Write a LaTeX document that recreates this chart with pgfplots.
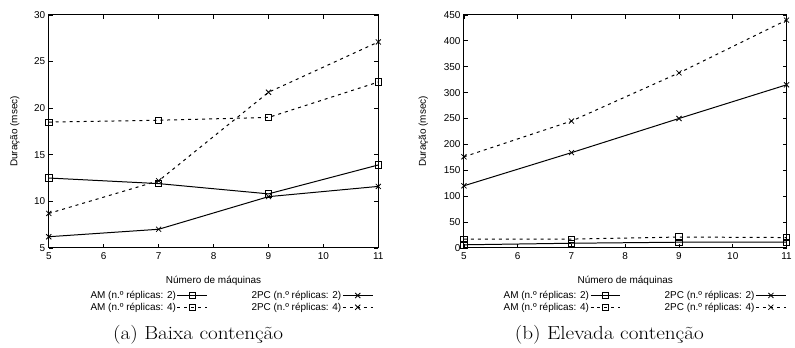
\documentclass[border=0pt]{standalone}
\usepackage{fontspec}
\setsansfont{Liberation Sans}
\usepackage{graphicx}
\usepackage{pgfplots}
\pgfplotsset{compat=1.18}
\pgfplotsset{
  gp/.style={
    scale only axis,
    width=331pt, height=234pt,
    axis line style={line width=1pt},
    tick align=inside,
    major tick length=4pt,
    tick style={line width=0.8pt, black},
    xmin=5, xmax=11, xtick={5,6,7,8,9,10,11},
    xticklabel={\pgfmathprintnumber[assume math mode=true]{\tick}},
    yticklabel={\pgfmathprintnumber[assume math mode=true]{\tick}},
    ticklabel style={font=\sffamily\fontsize{10}{11}\selectfont},
    xticklabel style={yshift=-1pt},
    xlabel={Número de máquinas},
    ylabel={Duração (msec)},
    every axis x label/.style={at={(axis description cs:0.5,-0.141)},anchor=center,font=\sffamily\fontsize{10}{11}\selectfont},
    legend columns=2,
    legend plot pos=right,
    legend cell align=right,
    legend style={draw=none, fill=none, font=\sffamily\fontsize{10}{11}\selectfont,
      row sep=1pt, inner sep=0pt, nodes={inner sep=1pt},
      /tikz/column 2/.style={column sep=43pt}},
    legend image code/.code={\draw[mark repeat=2,mark phase=2] plot coordinates {(0pt,0pt) (15pt,0pt) (30pt,0pt)};},
  },
  am2/.style={black, line width=1pt, mark=square, mark size=3.2pt, mark options={solid, line width=0.8pt}},
  am4/.style={black, line width=1pt, dash pattern=on 3pt off 4pt, mark=square, mark size=3.2pt, mark options={solid, line width=0.8pt}},
  pc2/.style={black, line width=1pt, mark=x, mark size=3.6pt, mark options={solid, line width=0.8pt}},
  pc4/.style={black, line width=1pt, dash pattern=on 3pt off 4pt, mark=x, mark size=3.6pt, mark options={solid, line width=0.8pt}},
}
\begin{document}
\begin{tikzpicture}[x=1pt,y=1pt]
\path (0,0) rectangle (795,349);
\begin{axis}[gp, at={(49pt,100pt)}, anchor=south west,
  ymin=5, ymax=30, ytick={5,10,15,20,25,30},
  every axis y label/.style={at={(axis description cs:-0.103,0.5)},rotate=90,anchor=center,font=\sffamily\fontsize{10}{11}\selectfont},
  legend style={at={(axis description cs:0.985,-0.18)}, anchor=north east}]
\addplot[am2] coordinates {(5,12.5) (7,11.9) (9,10.8) (11,13.9)};
\addlegendentry{AM (n.º réplicas: 2)}
\addplot[pc2] coordinates {(5,6.2) (7,7.0) (9,10.5) (11,11.6)};
\addlegendentry{2PC (n.º réplicas: 2)}
\addplot[am4] coordinates {(5,18.5) (7,18.7) (9,19.0) (11,22.8)};
\addlegendentry{AM (n.º réplicas: 4)}
\addplot[pc4] coordinates {(5,8.7) (7,12.2) (9,21.7) (11,27.1)};
\addlegendentry{2PC (n.º réplicas: 4)}
\end{axis}
\begin{axis}[gp, width=324pt, at={(466pt,100pt)}, anchor=south west,
  ymin=0, ymax=450, ytick={0,50,100,150,200,250,300,350,400,450},
  every axis y label/.style={at={(axis description cs:-0.126,0.5)},rotate=90,anchor=center,font=\sffamily\fontsize{10}{11}\selectfont},
  legend style={at={(axis description cs:1,-0.18)}, anchor=north east}]
\addplot[am2] coordinates {(5,6) (7,9) (9,11) (11,11)};
\addlegendentry{AM (n.º réplicas: 2)}
\addplot[pc2] coordinates {(5,120) (7,184) (9,250) (11,315)};
\addlegendentry{2PC (n.º réplicas: 2)}
\addplot[am4] coordinates {(5,17) (7,17) (9,21) (11,20)};
\addlegendentry{AM (n.º réplicas: 4)}
\addplot[pc4] coordinates {(5,176) (7,245) (9,338) (11,440)};
\addlegendentry{2PC (n.º réplicas: 4)}
\end{axis}
\node[anchor=base, inner sep=0pt, font=\fontsize{19}{20}\selectfont] at (199,8) {\scalebox{1.12}[1]{(a) Baixa contenção}};
\node[anchor=base, inner sep=0pt, font=\fontsize{19}{20}\selectfont] at (612,8) {\scalebox{1.12}[1]{(b) Elevada contenção}};
\end{tikzpicture}
\end{document}
